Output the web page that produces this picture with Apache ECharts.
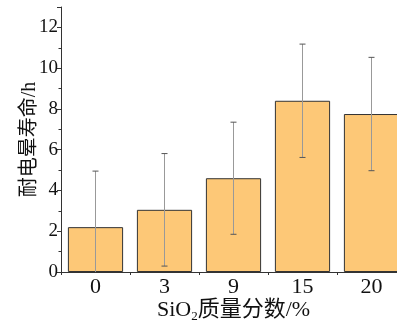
<!DOCTYPE html>
<html>
<head>
<meta charset="utf-8">
<script src="https://cdn.jsdelivr.net/npm/echarts@6/dist/echarts.min.js"></script>
<style>
  html, body { margin: 0; padding: 0; background: #fff; }
  #chart { width: 397px; height: 323px; }
</style>
</head>
<body>
<div id="chart"></div>
<script>
const categories = ['0', '3', '9', '15', '20'];
const lifeValues = [2.2, 3.05, 4.6, 8.4, 7.75];
const lifeErrors = [2.75, 2.76, 2.75, 2.78, 2.78];

const serifFont = '"Liberation Serif", "Noto Sans CJK SC", serif';

const errorData = categories.map((c, i) => [
  i,
  Math.max(0, lifeValues[i] - lifeErrors[i]),
  lifeValues[i] + lifeErrors[i],
  lifeValues[i] - lifeErrors[i] < 0 ? 1 : 0
]);

const chart = echarts.init(document.getElementById('chart'));

const option = {
  animation: false,
  // plot runs past the right edge, like the cropped original
  grid: { left: 61, width: 345, top: 7, bottom: 51, containLabel: false, outerBoundsMode: 'none' },
  xAxis: {
    type: 'category',
    data: categories,
    name: '{a|SiO}{sub|2}{a|质量分数/%}',
    nameLocation: 'middle',
    nameGap: 26,
    nameMoveOverlap: false,
    nameTextStyle: {
      rich: {
        a: { fontFamily: serifFont, fontSize: 22, color: '#111' },
        sub: { fontFamily: serifFont, fontSize: 13, color: '#111', padding: [12, 0, 0, 0] }
      }
    },
    axisLine: { lineStyle: { color: '#333', width: 1 } },
    axisTick: { show: true, length: 3, lineStyle: { color: '#333' } },
    axisLabel: { fontFamily: serifFont, fontSize: 22, color: '#111', margin: 4 }
  },
  yAxis: {
    type: 'value',
    min: 0,
    max: 13,
    interval: 2,
    name: '耐电晕寿命/h',
    nameLocation: 'middle',
    nameGap: 21,
    nameMoveOverlap: false,
    nameTextStyle: { fontFamily: serifFont, fontSize: 20, color: '#111' },
    splitLine: { show: false },
    axisLine: { show: true, lineStyle: { color: '#333', width: 1 } },
    axisTick: { show: true, length: 4, lineStyle: { color: '#333' } },
    minorTick: { show: true, splitNumber: 2, length: 2.5, lineStyle: { color: '#333' } },
    axisLabel: {
      fontFamily: serifFont, fontSize: 19, color: '#111', margin: 3,
      formatter: v => (v > 12 ? '' : String(v))
    }
  },
  series: [
    {
      type: 'bar',
      data: lifeValues,
      barWidth: '80%',
      itemStyle: { color: '#fdc877', borderColor: '#333', borderWidth: 1 }
    },
    {
      type: 'custom',
      data: errorData,
      z: 10,
      renderItem: function (params, api) {
        const x = api.value(0);
        const lo = api.coord([x, api.value(1)]);
        const hi = api.coord([x, api.value(2)]);
        const clipped = api.value(3);
        const cap = 3;
        const children = [
          { type: 'line', shape: { x1: hi[0], y1: hi[1], x2: lo[0], y2: lo[1] },
            style: { stroke: '#999', lineWidth: 1 } },
          { type: 'line', shape: { x1: hi[0] - cap, y1: hi[1], x2: hi[0] + cap, y2: hi[1] },
            style: { stroke: '#555', lineWidth: 1 } }
        ];
        if (!clipped) {
          children.push({ type: 'line', shape: { x1: lo[0] - cap, y1: lo[1], x2: lo[0] + cap, y2: lo[1] },
            style: { stroke: '#555', lineWidth: 1 } });
        }
        return { type: 'group', children: children };
      }
    }
  ]
};

chart.setOption(option);
</script>
</body>
</html>
